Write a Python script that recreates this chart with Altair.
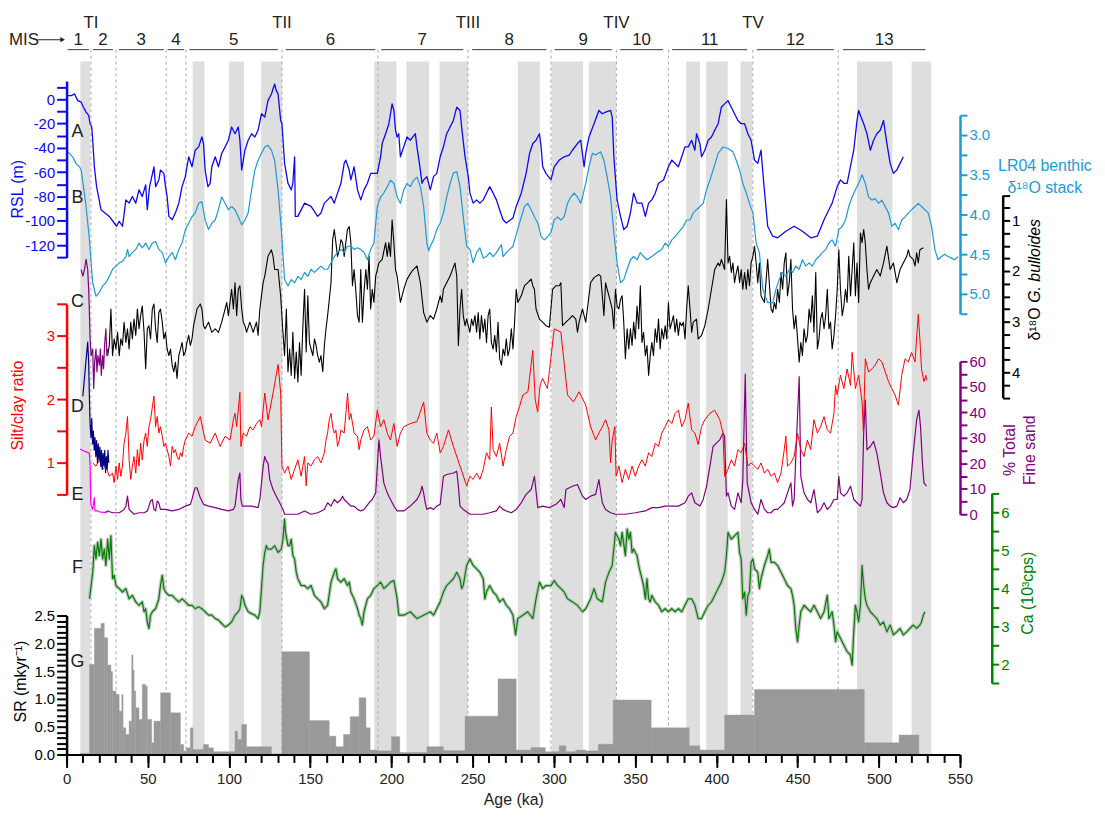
import altair as alt
import pandas as pd

FONT = "Liberation Sans"
INK = "#222222"

# ---------------- data (age in ka, value) ----------------
RSL = [(0.2,3),(2.9,3),(4.9,4.4),(6.9,-1.1),(9.0,-2.4),(10.4,-6.5),(12.0,-10.6),(13.6,-13.3),(14.5,-20.1),(15.5,-22.8),(16.1,-33.7),(17.1,-55.5),(18.5,-71.8),(21.2,-90.8),(26.3,-96.3),(30.8,-104.4),(32.4,-100.3),(34.4,-104.4),(35.4,-94.9),(36.5,-82.7),(38.5,-85.4),(40.5,-79.9),(42.6,-85.4),(44.6,-74.5),(46.6,-79.9),(48.7,-70.4),(49.7,-90.8),(51.1,-71.8),(53.8,-55.5),(54.8,-71.8),(56.8,-66.3),(57.8,-58.2),(59.9,-60.9),(60.9,-71.8),(61.9,-79.9),(63.0,-96.3),(65.0,-99),(67.0,-93.5),(69.1,-85.4),(71.1,-71.8),(73.1,-63.6),(75.2,-47.3),(77.2,-55.5),(79.2,-41.9),(81.3,-39.1),(83.3,-31.0),(84.3,-36.4),(85.3,-58.2),(87.0,-71.8),(88.4,-69.1),(89.4,-55.5),(91.5,-47.3),(93.5,-55.5),(95.5,-44.6),(97.6,-39.1),(99.6,-33.7),(101.6,-22.8),(103.7,-28.3),(105.7,-22.8),(106.7,-33.7),(107.8,-58.2),(109.8,-41.9),(111.8,-33.7),(113.9,-28.3),(115.9,-31.0),(117.9,-25.5),(120.0,-11.9),(122.0,-14.7),(124.0,-1.1),(126.1,4.4),(128.1,12.5),(129.1,7.1),(130.2,4.4),(131.8,-17.4),(132.6,-20.1),(134.2,-52.7),(136.3,-69.1),(138.3,-74.5),(139.3,-69.1),(140.4,-47.3),(140.8,-96.3),(142.4,-96.3),(146.5,-85.4),(150.5,-88.1),(154.6,-96.3),(156.6,-93.5),(158.7,-85.4),(160.7,-82.7),(162.8,-79.9),(164.8,-85.4),(166.8,-77.2),(168.9,-69.1),(170.9,-52.7),(171.9,-50.0),(174.0,-58.2),(175.0,-66.3),(177.0,-55.5),(179.1,-74.5),(181.1,-82.7),(183.1,-74.5),(185.2,-69.1),(187.2,-60.9),(189.2,-60.9),(191.3,-60.9),(193.3,-47.3),(194.3,-36.4),(196.4,-28.3),(198.4,-20.1),(200.4,-3.8),(201.5,-9.2),(202.5,-25.5),(203.5,-31.0),(204.5,-28.3),(205.5,-47.3),(207.6,-39.1),(209.6,-31.0),(211.6,-33.7),(214.7,-28.3),(215.7,-39.1),(217.8,-58.2),(218.8,-69.1),(219.8,-66.3),(221.8,-63.6),(223.9,-74.5),(225.9,-63.6),(227.9,-60.9),(230.0,-47.3),(232.0,-39.1),(234.0,-28.3),(236.1,-22.8),(238.1,-17.4),(240.2,-6.5),(242.2,-9.2),(243.2,-22.8),(245.3,-47.3),(247.3,-63.6),(248.3,-77.2),(250.3,-85.4),(252.4,-82.7),(254.4,-85.4),(256.5,-82.7),(258.5,-77.2),(260.5,-71.8),(262.6,-77.2),(264.6,-82.7),(266.6,-90.8),(268.7,-99.0),(270.7,-101.7),
       (274.8,-97.6),(276.8,-88.1),(279.9,-77.2),(282.9,-60.9),(285.0,-44.6),(287.0,-36.4),(289.0,-33.7),(291.1,-28.3),(292.1,-39.1),(293.1,-55.5),(295.1,-60.9),(298.2,-66.3),(300.2,-55.5),(303.3,-50.0),(306.3,-47.3),(309.4,-45.9),(311.4,-41.9),(314.5,-36.4),(316.5,-33.7),(318.6,-55.5),(319.6,-44.6),(321.6,-31.0),(324.7,-20.1),(327.7,-9.2),(329.8,-11.9),(331.8,-10.6),(334.9,-9.2),(335.9,-14.7),(336.9,-47.3),(338.9,-82.7),(341.0,-96.3),(343.0,-107.1),(345.1,-104.4),(347.1,-93.5),(349.1,-77.2),(351.2,-85.4),(354.2,-85.4),(356.3,-96.3),(358.3,-85.4),(360.3,-82.7),(362.4,-77.2),(364.4,-69.1),(367.5,-66.3),(370.5,-55.5),(372.6,-50.0),(374.6,-52.7),(376.6,-55.5),(378.7,-47.3),(380.7,-39.1),(382.7,-39.1),(384.8,-33.7),(386.8,-41.9),(387.8,-28.3),(389.9,-36.4),(390.9,-47.3),(392.9,-41.9),(395.0,-33.7),(397.0,-31.0),(399.0,-25.5),(401.1,-20.1),(403.1,-6.5),(405.1,-3.8),(407.2,-1.1),(409.2,-6.5),(411.2,-11.9),(413.3,-17.4),(415.3,-20.1),(417.4,-20.1),(419.4,-28.3),(421.4,-33.7),(423.5,-50.0),(425.5,-52.7),(427.5,-41.9),(429.2,-69.1),(431.6,-104.4),(434.7,-112.6),(437.7,-113.9),(442.8,-108.5),(447.9,-104.4),(453.0,-108.5),(458.1,-113.9),(462.2,-112.6),(466.3,-99.0),(469.3,-90.8),(471.3,-85.4),(474.4,-71.8),(476.4,-66.3),(478.5,-69.1),(480.5,-69.1),(482.5,-55.5),(484.6,-41.9),(486.6,-17.4),(487.6,-9.2),(488.7,-13.3),(490.7,-20.1),(492.7,-28.3),(494.8,-41.9),(496.8,-33.7),(498.8,-28.3),(500.9,-25.5),(502.9,-17.4),(505.0,-36.4),(507.0,-52.7),(509.0,-60.9),(511.1,-58.2),(513.1,-52.7),(515.1,-47.3)]

LR04 = [(0.2,3.21),(1.8,3.23),(3.9,3.28),(5.9,3.36),(7.9,3.40),(9.0,3.44),(10.4,3.65),(12.0,3.90),(14.1,4.32),(15.1,4.61),(16.1,4.86),(18.1,5.03),(20.2,4.98),(22.2,4.90),(24.2,4.86),(26.3,4.78),(28.3,4.69),(30.4,4.65),(32.4,4.61),(34.4,4.59),(36.5,4.53),(37.5,4.44),(38.5,4.53),(40.5,4.48),(42.6,4.44),(44.6,4.36),(46.6,4.42),(48.7,4.36),(50.7,4.44),(52.8,4.36),(54.8,4.34),(56.8,4.44),(58.9,4.48),(60.9,4.61),(63.0,4.53),(65.0,4.48),(67.0,4.57),(69.1,4.44),(71.1,4.36),(73.1,4.19),(75.2,4.11),(77.2,4.03),(79.2,3.98),(81.3,3.86),(83.3,3.84),(85.3,4.07),(87.4,4.19),(89.4,4.11),(91.5,4.07),(93.5,3.94),(95.5,3.78),(97.6,3.86),(99.6,3.94),(101.6,3.90),(103.7,3.94),(105.7,4.03),(107.8,4.13),(109.8,4.07),(111.8,3.98),(113.9,3.69),(115.9,3.44),(117.9,3.32),(120.0,3.23),(122.0,3.15),(124.0,3.13),(126.1,3.19),(128.1,3.32),(130.2,3.69),(132.2,4.19),(134.2,4.82),(136.3,4.90),(138.3,4.82),(140.4,4.86),(142.4,4.78),(144.4,4.82),(146.5,4.73),(148.5,4.78),(150.5,4.69),(152.6,4.73),(154.6,4.69),(156.6,4.65),(158.7,4.69),(160.7,4.69),(162.8,4.61),(164.8,4.53),(166.8,4.48),(168.9,4.44),(170.9,4.48),(172.9,4.40),(175.0,4.40),(177.0,4.44),(179.1,4.42),(181.1,4.44),(183.1,4.48),(185.2,4.57),(187.2,4.44),(189.2,4.36),(191.3,3.90),(193.3,3.78),(195.3,3.73),(197.4,3.65),(199.4,3.57),(201.5,3.61),(203.5,3.78),(205.5,3.86),(207.6,3.69),(209.6,3.61),(211.6,3.65),(213.7,3.57),(215.7,3.53),(217.8,3.65),(219.8,3.90),(221.8,4.36),(222.9,4.46),(223.9,4.40),(225.9,4.32),(227.9,4.19),(230.0,4.11),(232.0,3.98),(234.0,3.78),(236.1,3.61),(238.1,3.48),(240.2,3.46),(242.2,3.65),(244.2,4.03),(246.3,4.40),(248.3,4.44),(250.3,4.61),(252.4,4.48),(254.4,4.42),(256.5,4.55),(258.5,4.53),(260.5,4.48),(262.6,4.53),(264.6,4.48),(267.7,4.38),(268.7,4.53),(270.7,4.48),
        (274.8,4.40),(278.8,4.11),(281.9,3.90),(283.9,3.86),(286.0,3.94),(288.0,4.03),(290.1,4.11),(292.1,4.28),(294.1,4.32),(296.2,4.28),(298.2,4.23),(300.2,4.07),(302.3,4.03),(304.3,4.07),(306.3,4.03),(308.4,3.86),(310.4,3.78),(312.5,3.73),(314.5,3.78),(316.5,3.86),(317.6,3.78),(319.6,3.61),(321.6,3.40),(323.7,3.23),(325.7,3.25),(328.8,3.21),(330.8,3.32),(332.8,3.53),(334.9,3.78),(336.9,4.23),(338.9,4.61),(341.0,4.86),(343.0,4.82),(345.1,4.69),(347.1,4.57),(349.1,4.53),(351.2,4.57),(353.2,4.48),(355.2,4.53),(357.3,4.57),(360.3,4.53),(363.4,4.48),(366.4,4.44),(368.5,4.36),(370.5,4.40),(372.6,4.32),(374.6,4.28),(376.6,4.23),(379.7,4.15),(381.7,4.07),(383.8,4.07),(385.8,3.98),(387.8,3.94),(389.9,3.90),(391.9,3.86),(393.9,3.69),(396.0,3.57),(398.0,3.44),(401.1,3.23),(404.1,3.15),(407.2,3.17),(410.2,3.21),(412.3,3.32),(414.3,3.44),(416.3,3.61),(418.4,3.73),(420.4,3.86),(422.5,3.98),(424.5,4.36),(426.5,4.48),(428.6,4.94),(431.6,5.11),(434.7,5.11),(436.7,4.94),(438.7,4.82),(440.8,4.73),(442.8,4.78),(444.9,4.69),(446.9,4.73),(448.9,4.65),(451.0,4.69),(453.0,4.57),(455.0,4.65),(457.1,4.61),(459.1,4.65),(461.2,4.57),(463.2,4.53),(465.2,4.48),(467.3,4.44),(469.3,4.36),(471.3,4.32),(473.4,4.40),(475.4,4.19),(477.5,4.15),(479.5,4.07),(481.5,3.90),(483.6,3.78),(485.6,3.69),(487.6,3.61),(489.7,3.50),(491.7,3.61),(493.7,3.78),(495.8,3.82),(497.8,3.80),(499.9,3.86),(501.9,3.82),(503.9,3.90),(506.0,3.98),(508.0,4.15),(510.0,4.11),(512.1,4.19),(514.1,4.07),(516.2,4.03),(518.2,3.98),(520.2,3.94),(522.3,3.90),(524.3,3.86),(526.3,3.90),(528.4,3.94),(530.4,3.98),(532.5,4.15),(534.5,4.44),(536.5,4.57),(538.6,4.53),(540.6,4.50),(542.6,4.53),(544.7,4.55),(546.7,4.57),(548.8,4.53)]

BULLOIDES = [(25.3,3.67),(26.3,3.47),(27.3,2.75),(28.3,3.67),(29.3,3.34),(30.4,3.54),(31.4,3.21),(32.4,3.67),(33.4,3.34),(34.4,3.47),(35.4,3.01),(36.5,3.41),(37.5,3.14),(38.5,3.54),(39.5,3.01),(40.5,3.34),(41.5,2.95),(42.6,3.27),(43.6,2.75),(44.6,3.14),(45.6,2.88),(46.6,2.69),(47.7,3.21),(48.7,3.93),(49.7,3.14),(50.7,3.08),(51.7,3.34),(52.8,2.75),(53.8,2.65),(54.8,3.14),(55.8,3.41),(56.8,2.82),(57.8,2.75),(58.9,3.01),(59.9,3.34),(60.9,3.21),(61.9,3.54),(63.0,3.67),(64.0,3.54),(65.0,3.86),(66.0,3.99),(67.0,3.80),(68.0,4.12),(69.1,3.67),(70.1,3.54),(71.1,3.41),(72.1,3.67),(73.1,3.60),(74.1,3.41),(75.2,3.27),(76.2,3.47),(77.2,3.34),(78.2,3.08),(80.3,2.75),(82.3,2.65),(83.3,2.75),(84.3,3.08),(85.3,3.14),(87.4,3.01),(89.4,3.21),(91.5,3.14),(93.5,3.21),(95.5,3.01),(97.6,2.75),(98.6,2.62),(99.6,2.88),(100.6,2.62),(101.6,2.36),(102.7,2.75),(103.7,2.23),(104.7,2.88),(105.7,2.36),(106.7,2.29),(107.8,2.75),(108.8,3.01),(109.8,3.08),(110.8,3.21),(112.8,3.01),(114.9,3.21),(116.9,3.01),(117.9,3.27),(119.0,2.75),(120.0,2.49),(121.0,2.23),(122.0,2.10),(124.0,1.71),(126.1,1.58),(127.1,1.71),(128.1,1.97),(130.2,1.97),(131.8,2.49),(133.2,3.21),(134.2,3.67),(135.3,2.75),(136.3,3.99),(137.3,3.54),(138.3,4.06),(139.3,3.21),(140.4,4.12),(141.4,3.60),(142.4,4.19),(143.4,3.41),(144.4,4.06),(145.4,3.14),(146.5,2.36),(147.5,3.60),(148.5,2.49),(149.5,3.41),(150.5,3.54),(151.6,3.67),(152.6,3.34),(153.6,3.47),(154.6,3.67),(155.6,3.80),(156.6,3.67),(157.7,3.99),(158.7,3.47),(159.7,3.14),(160.7,2.88),(162.8,2.23),(163.8,1.38),(164.8,1.18),(165.8,1.44),(166.8,1.71),(167.9,1.58),(168.9,1.38),(169.9,1.44),(170.9,1.71),(172.9,1.18),(174.0,1.12),(175.0,1.44),(176.0,2.29),(177.0,1.97),(178.0,2.36),(179.1,2.88),(180.1,3.01),(181.1,1.97),(182.1,3.01),(183.1,2.42),(184.2,1.97),(185.2,2.36),(186.2,1.71),(187.2,2.75),(188.2,2.36),(189.2,2.62),(190.3,2.10),(191.3,1.97),(192.3,1.84),(194.3,1.77),(196.4,1.44),(197.4,1.71),(198.4,1.44),(199.4,1.71),(200.4,0.99),(201.5,1.44),(202.5,1.97),(203.5,2.10),(205.5,2.62),(207.6,2.36),(209.6,2.16),(212.7,2.00),(215.7,1.90),(217.8,2.23),(219.8,2.82),(221.8,3.01),(223.9,2.88),(225.9,2.95),(227.9,2.75),(230.0,2.49),(231.0,2.62),(232.0,2.36),(234.0,2.23),(236.1,2.10),(239.1,1.84),(240.2,2.10),(241.2,3.47),(242.2,2.75),(243.2,2.36),(244.2,2.88),(245.3,3.08),(246.3,2.95),(248.3,3.21),(249.3,2.95),(250.3,3.08),(251.4,2.88),(252.4,3.21),(253.4,2.82),(254.4,3.34),(255.4,2.88),(256.5,3.21),(257.5,2.95),(258.5,3.41),(259.5,2.88),(260.5,2.75),(261.5,3.41),(262.6,3.54),(263.6,3.27),(264.6,3.60),(265.6,3.01),(266.6,3.73),(267.7,3.86),(268.7,3.54),(269.7,3.67),(270.7,3.34),
             (271.7,3.67),(272.7,3.54),(273.8,3.14),(274.8,3.54),(275.8,3.01),(276.8,2.36),(277.8,2.62),(279.9,2.49),(281.9,2.29),(283.9,2.23),(286.0,2.16),(287.0,2.29),(288.0,2.36),(289.0,2.75),(291.1,2.95),(293.1,3.01),(295.1,3.08),(297.2,3.11),(299.2,2.36),(301.3,2.29),(303.3,2.29),(304.3,2.23),(305.3,3.08),(307.4,3.01),(309.4,2.95),(311.4,2.88),(313.5,2.95),(314.5,3.21),(315.5,3.01),(317.6,2.75),(318.6,2.88),(319.6,3.01),(320.6,2.75),(322.6,2.23),(324.7,2.13),(327.7,2.07),(328.8,2.10),(329.8,2.49),(330.8,2.88),(331.8,2.23),(332.8,2.36),(333.9,2.49),(335.9,2.75),(336.9,3.14),(337.9,2.36),(338.9,2.69),(340.0,2.75),(341.0,2.56),(342.0,2.49),(343.0,3.01),(344.0,3.73),(345.1,3.14),(346.1,3.54),(347.1,3.14),(348.1,3.47),(349.1,3.01),(350.1,3.34),(351.2,2.69),(352.2,3.14),(353.2,2.29),(354.2,3.41),(355.2,3.21),(356.3,3.67),(357.3,3.47),(358.3,4.06),(359.3,3.67),(360.3,3.41),(361.3,3.67),(362.4,3.14),(363.4,3.41),(364.4,2.95),(365.4,3.54),(366.4,3.14),(367.5,3.34),(368.5,3.08),(369.5,3.34),(370.5,2.62),(371.5,3.14),(372.6,3.01),(373.6,2.88),(374.6,3.21),(375.6,2.95),(376.6,3.27),(377.6,3.01),(378.7,3.08),(379.7,3.01),(380.7,3.34),(381.7,2.75),(382.7,2.29),(383.8,2.75),(384.8,3.21),(385.8,3.01),(387.8,2.95),(388.8,3.34),(390.9,3.27),(392.9,3.08),(395.0,2.75),(397.0,2.36),(399.0,1.97),(401.1,1.84),(402.1,1.90),(403.1,1.77),(405.1,1.97),(406.2,0.59),(407.2,1.84),(408.2,1.71),(409.2,2.03),(410.2,1.84),(411.2,2.23),(412.3,2.03),(413.3,1.90),(414.3,2.23),(415.3,1.97),(416.3,2.36),(417.4,2.03),(418.4,2.36),(419.4,1.97),(420.4,2.29),(421.4,1.84),(422.5,1.71),(423.5,1.51),(424.5,1.84),(425.5,2.23),(426.5,1.84),(427.5,2.49),(429.6,2.62),(431.6,1.77),(432.6,2.23),(433.7,2.75),(434.7,2.82),(435.7,2.62),(436.7,2.75),(437.7,2.36),(438.8,2.62),(439.8,2.03),(440.8,2.36),(441.8,1.84),(442.8,1.64),(443.8,2.49),(444.9,2.23),(445.9,1.77),(446.9,2.75),(447.9,3.14),(448.9,2.88),(450.0,3.34),(451.0,3.80),(452.0,3.41),(453.0,3.67),(454.0,3.14),(455.1,3.41),(456.1,3.27),(457.1,2.75),(458.1,3.01),(459.1,2.49),(460.1,3.21),(461.2,2.03),(462.2,3.54),(463.2,3.34),(464.2,2.95),(465.2,2.82),(466.3,3.14),(467.3,2.88),(468.3,2.36),(469.3,3.14),(470.3,3.01),(471.3,3.54),(472.4,3.27),(473.4,2.88),(474.4,2.36),(475.4,1.58),(476.4,2.36),(477.5,2.88),(478.5,2.69),(479.5,2.36),(480.5,2.62),(481.5,1.71),(482.6,2.49),(483.6,1.97),(484.6,1.44),(485.6,2.49),(486.6,1.84),(487.6,2.62),(488.7,1.25),(489.7,1.44),(490.7,1.18),(491.7,1.44),(492.7,1.97),(493.7,2.36),(494.8,2.23),(496.8,2.10),(498.8,1.97),(500.9,2.10),(502.9,1.84),(505.0,1.51),(507.0,1.97),(509.0,1.84),(511.1,2.23),(513.1,1.97),(515.1,1.84),(517.2,1.71),(518.2,1.58),(519.2,1.71),(521.2,1.77),(522.3,1.90),(523.3,1.64),(524.3,1.84),(525.3,1.58),(527.4,1.54)]

BULLOIDES_CORE2 = [(9.0,1.97),(10.0,2.10),(11.0,1.97),(12.0,1.77),(13.0,1.97),(13.6,2.36),(14.1,2.88),(14.5,3.34),(15.1,3.67),(16.1,3.54),(16.7,4.32),(17.3,3.80),(18.1,3.54),(18.7,3.99),(19.3,3.67),(20.2,3.86),(20.8,3.54),(21.4,4.06),(22.2,3.67),(22.8,3.93),(23.4,3.47),(24.2,3.14),(24.8,3.67),(25.3,3.54)]

SILT_CLAY = [(16.1,1.0),(18.1,0.95),(20.2,1.05),(22.2,0.9),(24.2,0.95),(26.3,0.79),(28.3,0.84),(29.3,0.69),(30.4,0.95),(31.4,0.74),(32.4,1.0),(33.4,0.79),(34.4,0.95),(35.4,1.31),(36.5,1.47),(37.5,1.73),(38.5,1.05),(39.5,0.74),(40.5,0.95),(41.5,1.1),(42.6,0.84),(43.6,1.21),(44.6,0.95),(45.6,1.31),(46.6,1.05),(47.7,1.36),(48.7,1.47),(49.7,1.26),(50.7,1.57),(51.7,1.68),(52.8,1.88),(53.8,2.05),(54.8,1.57),(55.8,1.73),(56.8,1.47),(57.8,1.57),(58.9,1.42),(59.9,1.26),(60.9,1.31),(61.9,1.21),(63.0,1.1),(64.0,0.95),(65.0,1.26),(66.0,1.16),(67.0,1.21),(68.0,1.1),(69.1,1.05),(70.1,1.16),(71.1,1.1),(72.1,1.26),(73.1,1.36),(75.2,1.47),(77.2,1.42),(79.2,1.57),(82.3,1.73),(85.3,1.36),(88.4,1.31),(91.5,1.47),(94.5,1.26),(97.6,1.42),(100.6,1.36),(102.7,1.68),(103.7,1.78),(104.7,1.57),(106.7,2.11),(107.3,1.26),(108.8,1.47),(110.8,1.42),(112.8,1.57),(114.9,1.52),(116.9,1.62),(119.0,1.68),(120.0,1.57),(122.0,2.1),(124.0,1.68),(127.1,2.1),(130.2,2.55),(131.8,2.1),(132.6,0.95),(134.2,0.84),(136.3,0.95),(138.3,0.74),(140.4,0.9),(142.4,1.05),(144.4,0.79),(146.5,1.1),(147.5,0.64),(148.5,1.0),(150.5,0.95),(152.6,1.05),(154.6,1.1),(156.6,1.0),(158.7,1.16),(159.7,1.36),(160.7,1.47),(161.7,1.68),(162.8,1.78),(163.8,1.57),(164.8,1.47),(165.8,1.52),(166.8,1.26),(167.9,1.36),(168.9,1.52),(170.9,1.47),(173.0,2.1),(174.0,1.68),(175.0,1.78),(177.0,1.47),(179.1,1.42),(180.1,1.21),(181.1,1.36),(183.1,1.52),(185.2,1.57),(187.2,1.36),(189.2,1.42),(191.3,1.83),(193.3,1.57),(195.3,1.68),(197.4,1.47),(199.4,1.36),(201.5,1.62),(203.5,1.26),(205.5,1.47),(207.6,1.57),(211.6,1.62),(215.7,1.65),(219.8,1.96),(221.8,1.47),(223.9,1.36),(225.9,1.31),(227.9,1.47),(230.0,1.16),(232.0,1.26),(235.1,1.52),(238.1,1.26),(242.2,0.95),(246.3,0.64),(248.3,0.79),(250.3,0.74),(252.4,0.84),(254.4,0.74),(256.5,0.9),(258.5,1.16),(260.5,1.05),(261.5,1.88),(262.6,1.21),(264.6,1.1),(266.6,1.31),(268.7,0.95),(270.7,1.21),
             (272.7,1.42),(274.8,1.47),(276.8,1.73),(278.9,1.89),(280.9,2.07),(284.0,2.12),(287.0,2.77),(288.5,2.0),(290.0,1.8),(291.5,2.22),(293.0,2.33),(296.0,2.17),(300.2,3.11),(304.3,3.06),(308.4,2.07),(312.0,1.96),(315.5,2.12),(319.6,1.91),(322.6,1.57),(325.7,1.36),(327.7,1.47),(329.8,1.57),(331.8,1.68),(333.9,1.52),(334.9,1.0),(335.9,1.36),(337.5,1.57),(338.3,0.79),(340.0,0.95),(342.0,0.69),(344.0,0.9),(346.0,0.74),(348.1,0.95),(350.1,0.79),(352.2,0.95),(354.2,1.05),(356.3,0.95),(358.3,1.16),(360.3,1.1),(362.4,1.31),(364.4,1.26),(366.4,1.47),(368.5,1.57),(370.5,1.68),(372.6,1.62),(374.6,1.78),(376.6,1.83),(378.7,1.57),(380.7,1.68),(382.7,1.94),(384.8,1.52),(386.8,1.47),(388.8,1.29),(390.9,1.57),(392.9,1.68),(396.0,1.78),(399.0,1.83),(402.1,1.68),(404.1,1.47),(405.1,0.79),(407.2,0.9),(409.2,1.05),(411.2,0.95),(413.3,1.21),(415.3,1.16),(417.4,1.31),(419.4,0.95),(421.4,1.0),(423.5,0.95),(425.5,0.9),(427.5,1.0),(429.6,0.84),(431.6,0.9),(433.7,0.79),(435.7,0.84),(437.7,0.69),(439.8,0.84),(441.8,1.21),(442.8,1.42),(443.8,0.95),(445.9,1.0),(447.9,1.1),(450.0,1.47),(452.0,1.21),(454.0,1.1),(456.0,1.36),(458.1,1.21),(460.1,1.68),(462.2,1.47),(464.2,1.57),(466.3,1.73),(468.3,1.52),(470.3,1.47),(472.4,1.78),(473.4,2.22),(474.4,2.07),(476.4,2.38),(478.5,2.17),(480.5,2.48),(482.6,2.22),(483.6,2.74),(485.6,2.17),(487.6,2.38),(489.7,1.96),(490.5,1.5),(491.7,2.64),(493.7,2.43),(495.8,2.48),(497.8,2.54),(499.9,2.64),(501.9,2.59),(504.0,2.43),(506.0,2.28),(508.0,2.17),(510.0,2.07),(512.1,1.91),(514.1,2.38),(516.2,2.64),(518.2,2.59),(520.2,2.74),(522.3,2.59),(524.3,3.34),(525.3,2.95),(526.3,2.48),(527.8,2.28),(529.0,2.38),(529.4,2.3)]

SILT_CLAY_CORE2 = [(10.0,2.05),(13.0,2.9),(13.6,2.6),(14.1,2.0),(14.5,1.6),(15.0,1.4),(15.5,1.7),(16.0,1.3),(16.5,1.5),(17.0,1.2),(17.5,1.4),(18.0,1.1),(18.5,1.35),(19.0,1.0),(19.5,1.3),(20.0,1.05),(20.5,1.25),(21.0,0.95),(21.5,1.2),(22.0,0.9),(22.5,1.15),(23.0,0.95),(23.5,1.2),(24.0,0.85),(24.5,1.1),(25.0,0.9),(25.5,1.2),(26.0,1.0)]

FINE_SAND = [(23.2,0.6),(25.3,1.3),(28.3,0.6),(32.4,0.6),(35.4,1.9),(36.5,3.2),(37.5,7.1),(38.5,1.9),(41.5,0),(44.6,0.6),(47.7,0.6),(49.7,1.3),(50.7,3.2),(51.7,5.2),(52.8,5.8),(53.8,1.9),(54.8,1.3),(55.8,5.2),(56.8,4.5),(57.8,1.9),(60.9,1.9),(65.0,1.3),(69.1,1.9),(73.1,3.2),(76.2,3.9),(77.2,5.8),(78.2,8.4),(79.2,10.4),(80.3,10.4),(81.3,8.4),(82.3,6.5),(83.3,5.2),(84.3,3.9),(87.4,3.2),(91.5,2.6),(95.5,1.9),(99.6,1.3),(102.7,1.9),(103.7,3.2),(104.7,8.4),(105.7,13.6),(106.7,16.2),(107.3,5.8),(108.2,3.2),(109.8,3.2),(113.9,3.2),(117.9,2.6),(119.0,5.8),(120.0,12.3),(121.0,18.8),(122.0,22.7),(123.0,20.8),(124.0,20.1),(125.1,13.6),(127.1,9.7),(129.1,7.1),(131.2,4.5),(133.2,1.9),(134.2,0),(138.3,0),(142.4,0),(146.5,1.3),(150.5,0),(154.6,0.6),(158.7,1.9),(160.7,4.5),(162.8,3.2),(164.8,5.8),(166.8,4.5),(168.9,5.8),(169.9,7.1),(170.9,5.8),(172.9,4.5),(175.0,3.2),(177.0,3.2),(179.1,1.9),(181.1,1.3),(183.1,1.9),(186.2,4.5),(188.2,5.8),(190.3,8.4),(191.3,18.8),(192.3,29.2),(193.3,22.7),(195.3,12.3),(197.4,8.4),(199.4,5.8),(201.5,3.2),(203.5,1.3),(207.6,1.3),(211.6,3.2),(215.7,5.8),(217.8,8.4),(218.8,11.0),(219.8,8.4),(220.8,4.5),(221.8,1.9),(223.9,2.6),(225.9,1.9),(227.9,3.2),(230.0,3.9),(232.0,14.9),(234.0,15.6),(238.1,16.2),(240.2,16.9),(241.2,11.0),(242.2,3.2),(244.2,1.9),(248.3,0),(252.4,0),(256.5,0),(260.5,0.6),(264.6,1.3),(266.6,3.2),(268.7,1.9),
             (270.7,1.3),(273.8,0.6),(276.8,1.9),(279.9,4.5),(282.9,7.8),(286.0,9.7),(288.0,14.9),(290.1,2.6),(293.1,3.2),(297.2,2.6),(301.3,3.9),(304.3,5.8),(306.3,2.6),(307.4,9.7),(311.4,11.0),(314.5,11.7),(317.6,7.1),(319.6,5.8),(322.6,7.1),(325.7,7.8),(327.7,13.6),(329.8,4.5),(331.8,1.9),(334.9,0.6),(337.9,0),(344.0,0),(350.1,0.6),(356.3,1.3),(360.3,2.6),(364.4,2.6),(368.5,3.2),(372.6,3.2),(376.6,3.2),(380.7,4.5),(382.7,7.1),(384.8,8.4),(386.8,4.5),(389.9,3.2),(391.9,5.8),(394.0,11.0),(396.0,18.8),(398.0,26.6),(400.0,27.9),(402.1,29.2),(404.1,31.8),(405.1,30.5),(406.2,7.1),(407.2,8.4),(409.2,3.2),(411.2,1.9),(413.3,8.4),(415.3,4.5),(416.3,13.6),(417.8,55),(419.0,12.3),(421.4,4.5),(423.5,1.9),(425.5,0),(427.5,5.8),(429.6,1.9),(431.6,0.6),(433.7,0.6),(435.7,1.9),(437.7,1.9),(439.8,3.2),(441.8,4.5),(443.8,8.4),(445.9,12.3),(446.9,3.2),(447.9,5.8),(449.5,31.8),(451.0,54),(452.0,14.9),(454.0,8.4),(456.1,5.8),(458.1,4.5),(460.1,9.7),(462.2,0.6),(464.2,1.9),(466.3,4.5),(468.3,1.9),(470.3,3.2),(472.4,5.8),(474.4,5.8),(475.4,14.9),(476.4,8.4),(478.5,7.1),(480.5,8.4),(482.6,11.0),(484.6,5.8),(486.6,4.5),(488.7,3.2),(489.7,5.8),(490.7,31.8),(491.7,44.8),(492.7,25.3),(494.8,26.6),(496.8,28.6),(498.8,24.0),(500.9,16.2),(502.9,8.4),(505.0,4.5),(507.0,3.2),(509.0,2.6),(511.1,3.2),(513.1,6.5),(515.1,4.5),(517.2,5.8),(519.2,9.7),(521.2,24.0),(523.3,37.0),(524.7,40.9),(525.7,34.4),(527.0,18.8),(527.8,12.3),(529.4,11.0)]

FINE_SAND_CORE2 = [(8.3,25.6),(10.0,25.0),(12.0,24.5),(14.0,24.0),(14.5,19.0),(14.8,6.0),(15.1,3.2),(16.1,2.0),(17.1,6.5),(17.5,1.3),(19.0,1.3),(21.0,0.8),(23.2,0.7),(25.0,0.8)]

CA = [(14.1,3.72),(15.1,4.07),(16.1,4.42),(17.1,5.12),(18.1,4.77),(19.1,5.21),(20.2,4.86),(21.2,5.29),(22.2,4.77),(23.2,5.03),(24.2,4.60),(25.3,5.29),(26.3,4.77),(27.3,5.38),(28.3,4.25),(29.3,4.34),(30.4,4.07),(32.4,3.99),(34.4,3.90),(36.5,3.99),(38.5,3.72),(40.5,3.81),(42.6,3.64),(44.6,3.55),(46.6,3.64),(47.7,3.38),(48.7,3.46),(49.7,3.11),(50.7,2.94),(51.7,3.29),(52.8,3.38),(54.8,3.46),(56.8,3.72),(57.8,4.07),(58.9,4.34),(59.9,3.99),(60.9,3.90),(63.0,3.81),(65.0,3.81),(67.0,3.72),(69.1,3.64),(71.1,3.72),(73.1,3.64),(75.2,3.55),(77.2,3.55),(79.2,3.46),(81.3,3.51),(83.3,3.46),(85.3,3.38),(87.4,3.29),(89.4,3.29),(91.5,3.20),(93.5,3.16),(95.5,3.07),(97.6,2.98),(99.6,3.03),(101.6,3.11),(103.7,3.29),(105.7,3.38),(106.7,3.46),(107.8,3.81),(108.8,3.72),(109.8,3.55),(111.8,3.38),(113.9,3.33),(115.9,3.29),(117.9,3.20),(119.0,3.38),(120.0,3.99),(121.0,4.60),(122.0,4.94),(123.0,5.12),(124.0,5.03),(126.1,5.03),(128.1,5.12),(130.2,4.94),(132.2,5.03),(133.2,5.29),(134.2,5.82),(134.8,5.47),(136.3,5.12),(137.3,5.12),(138.3,5.29),(139.3,4.86),(140.4,4.77),(141.4,4.42),(142.4,4.25),(144.4,4.07),(146.5,4.07),(148.5,3.99),(150.5,4.07),(152.6,3.81),(154.6,3.72),(156.6,3.64),(158.7,3.46),(160.7,3.55),(162.8,4.16),(164.8,4.42),(165.8,4.51),(166.8,4.25),(168.9,4.16),(170.9,4.25),(172.9,4.07),(174.0,4.16),(175.0,3.90),(177.0,3.72),(179.1,3.46),(180.1,3.29),(181.1,3.20),(182.1,3.03),(183.1,3.38),(185.2,3.72),(187.2,3.81),(189.2,3.99),(191.3,4.07),(193.3,4.16),(195.3,3.99),(197.4,4.07),(199.4,4.16),(201.5,4.20),(203.5,3.72),(204.5,3.29),(207.6,3.29),(211.6,3.38),(215.7,3.20),(219.8,3.29),(223.9,3.38),(225.9,3.29),(227.9,3.46),(230.0,3.64),(232.0,3.90),(234.0,4.07),(236.1,4.16),(238.1,4.25),(240.2,4.42),(242.2,4.25),(243.2,3.99),(244.2,4.07),(246.3,4.60),(248.3,4.77),(250.3,4.60),(252.4,4.51),(254.4,4.42),(256.5,4.25),(257.5,3.72),(258.5,3.90),(260.5,4.07),(262.6,3.90),(264.6,3.81),(266.6,3.64),(268.7,3.72),(270.7,3.55),
      (272.7,3.46),(274.8,3.29),(276.4,2.77),(277.8,3.20),(280.9,3.29),(283.9,3.38),(287.0,3.20),(289.0,3.72),(291.1,4.16),(293.1,3.99),(295.1,4.07),(298.2,4.07),(300.2,4.20),(302.3,4.07),(304.3,3.99),(306.3,3.90),(308.4,3.72),(311.4,3.64),(314.5,3.55),(317.6,3.38),(319.6,3.46),(322.6,3.72),(324.7,3.99),(326.7,3.72),(329.8,3.64),(331.8,4.16),(333.9,4.42),(335.9,4.60),(337.9,5.47),(340.0,5.29),(341.0,5.12),(342.0,5.47),(344.0,4.86),(345.1,5.56),(346.1,5.29),(347.1,5.47),(348.1,4.94),(349.1,5.03),(350.1,4.94),(351.2,4.86),(352.2,4.60),(353.2,4.42),(354.2,4.25),(355.2,4.07),(356.3,3.72),(357.3,4.25),(358.3,3.72),(359.3,3.64),(360.3,3.81),(362.4,3.64),(364.4,3.55),(366.4,3.38),(368.5,3.46),(370.5,3.38),(372.6,3.46),(374.6,3.38),(376.6,3.46),(378.7,3.38),(380.7,3.55),(382.7,3.72),(384.8,3.72),(386.8,3.55),(388.8,3.20),(390.9,3.20),(392.9,3.38),(395.0,3.55),(397.0,3.64),(399.0,3.81),(401.1,3.99),(403.1,4.16),(405.1,4.42),(406.2,4.86),(407.2,5.47),(409.2,5.29),(411.2,5.38),(413.3,5.47),(414.3,4.94),(415.3,4.77),(416.3,3.72),(417.4,3.90),(418.4,3.29),(419.4,3.81),(420.4,3.90),(421.4,4.68),(422.5,4.77),(423.5,4.51),(425.5,4.42),(426.5,3.99),(427.5,4.25),(429.6,4.60),(431.6,4.86),(432.6,5.03),(433.7,4.68),(435.7,4.68),(437.7,4.60),(439.8,4.42),(441.8,4.25),(443.8,4.07),(445.9,3.99),(446.9,3.81),(447.9,3.55),(448.9,2.94),(450.0,2.59),(451.0,3.03),(452.0,3.38),(454.0,3.55),(456.1,3.46),(458.1,3.38),(460.1,3.55),(462.2,3.38),(464.2,3.20),(466.3,3.38),(468.3,3.81),(469.3,3.20),(470.3,3.29),(471.3,3.38),(472.4,3.03),(473.4,2.59),(474.4,2.85),(476.4,2.68),(478.5,2.50),(480.5,2.33),(482.6,2.24),(483.6,1.98),(484.6,2.85),(485.6,3.55),(486.6,3.38),(487.6,3.11),(488.7,3.55),(489.7,4.60),(490.7,4.07),(491.7,3.72),(492.7,3.55),(494.8,3.38),(496.8,3.29),(498.8,3.20),(500.9,3.03),(502.9,3.11),(505.0,2.85),(507.0,3.03),(509.0,2.77),(511.1,2.85),(513.1,2.94),(515.1,2.77),(517.2,2.85),(519.2,2.94),(521.2,3.03),(523.3,2.94),(525.3,3.03),(526.3,3.11),(527.4,3.29),(528.4,3.38)]

# G: sedimentation rate steps (start ka, end ka, m/kyr)
SR_START = [8.6,14.1,17.1,21.2,23.2,25.3,27.3,28.3,30.4,32.4,34.0,34.8,36.5,38.5,40.1,40.9,41.6,42.6,44.6,46.6,48.7,49.7,52.4,53.8,57.9,64.0,70.1,72.1,73.7,76.2,77.8,84.3,87.4,90.4,103.7,105.3,107.8,110.8,126.1,132.6,149.5,161.7,165.8,170.5,174.6,180.1,184.3,186.9,191.3,200.0,205.1,221.8,232.0,245.3,265.6,276.8,286.0,294.7,303.3,307.4,313.5,319.6,327.3,336.5,359.9,383.3,389.9,405.1,423.5,491.1,512.5]
SR_END = [14.1,17.1,21.2,23.2,25.3,27.3,28.3,30.4,32.4,34.0,34.8,36.5,38.5,40.1,40.9,41.6,42.6,44.6,46.6,48.7,49.7,52.4,53.8,57.9,64.0,70.1,72.1,73.7,76.2,77.8,84.3,87.4,90.4,103.7,105.3,107.8,110.8,126.1,132.6,149.5,161.7,165.8,170.5,174.6,180.1,184.3,186.9,191.3,200.0,205.1,221.8,232.0,245.3,265.6,276.8,286.0,294.7,303.3,307.4,313.5,319.6,327.3,336.5,359.9,383.3,389.9,405.1,423.5,491.1,512.5,524.7]
SR_VAL = [0.02,1.62,2.27,2.36,2.1,1.61,1.49,1.14,1.08,0.78,1.08,0.48,0.36,0.6,1.79,1.52,1.14,0.84,0.63,1.26,1.23,0.63,0.21,0.6,1.11,0.75,0.18,0.06,0.12,0.48,0.09,0.18,0.12,0.05,0.42,0.27,0.54,0.14,0.01,1.85,0.61,0.33,0.14,0.36,0.68,1.02,0.48,0.08,0.065,0.32,0.036,0.14,0.07,0.69,1.36,0.08,0.125,0.05,0.155,0.05,0.08,0.065,0.185,0.98,0.48,0.155,0.08,0.71,1.17,0.21,0.35]

BAND_START = [8.5,77.6,100.0,119.8,189.4,209.2,229.6,277.8,298.6,321.4,381.5,393.7,414.9,486.6,520.2]
BAND_END = [14.5,84.9,109.2,132.6,203.1,223.1,247.1,291.3,318.0,338.3,389.9,407.0,422.1,508.4,532.3]
MIS_BOUNDARY = [15.0,30.4,61.3,73.5,132.6,191.7,247.1,298.2,338.5,370.5,422.5,475.0]
MIS_LABEL = ["1","2","3","4","5","6","7","8","9","10","11","12","13"]
MIS_START = [0.7,16.3,32.2,62.2,75.7,135.0,193.7,249.7,300.5,340.8,372.8,424.9,478.0]
MIS_END = [13.7,28.5,59.8,72.4,130.0,190.0,244.2,295.4,335.7,367.2,419.0,472.3,528.7]
TERM_LABEL = ["TI","TII","TIII","TIV","TV"]
TERM_AGE = [15.0,132.6,247.1,338.5,422.5]
PANEL_LETTERS = ["A","B","C","D","E","F","G"]

# ---------------- layout ----------------
W, H = 900, 747
BLUE, LBLUE, BLACK, RED, PURPLE, GREEN = "#0a0af0", "#1c9ad6", "#000000", "#ff0000", "#800080", "#008000"
LETTER_Y = [120, 186, 291, 397, 486, 559, 654]


def frame(pairs):
    return pd.DataFrame(pairs, columns=["age", "v"])


XS = alt.Scale(domain=[0, 550], nice=False, zero=False, padding=0)


def X(axis=None):
    if axis is None:
        return alt.X("age:Q", scale=XS, axis=None)
    return alt.X("age:Q", scale=XS, axis=axis)


def yaxis(color, orient, values, test, fmt, title, tx, ty, offset=0, tick=10,
          angle=270, lh=18):
    return alt.Axis(
        orient=orient, offset=offset, values=values, format=fmt,
        labelExpr="(" + test + ") ? replace(datum.label, '\u2212', '-') : ''",
        title=title, titleX=tx, titleY=ty, titleAngle=angle, titleAlign="center",
        titleBaseline="middle", titleLineHeight=lh, titleColor=color, titleFont=FONT,
        titleFontSize=16, titleFontWeight="normal", domainColor=color, domainWidth=2.5,
        tickColor=color, tickWidth=2, tickSize=tick, labelColor=color, labelFont=FONT,
        labelFontSize=15, labelPadding=2, labelOverlap=False, grid=False, zindex=1)


def yscale(domain, rng):
    return alt.Scale(domain=domain, range=rng, nice=False, zero=False)


S_RSL = yscale([-130, 15], [246.25, 68.6])
S_LR04 = yscale([2.75, 5.25], [103, 303])
S_BUL = yscale([0.5, 4.5], [183.5, 387.5])
S_SILT = yscale([0.5, 3.5], [485.3, 293.3])
S_SAND = yscale([0, 60], [505, 351])
S_CA = yscale([1.5, 6.5], [675.1, 483.9])
S_SR = yscale([0, 2.5], [747, 607])


def qv(start, stop, step, nd=2):
    out, k = [], 0
    while True:
        v = round(start + k * step, nd)
        if v > stop + 1e-9:
            break
        out.append(v)
        k += 1
    return out


AX_RSL = yaxis(BLUE, "left", qv(-130, 10, 10), "datum.value % 20 === 0", ".0f",
               "RSL (m)", -49, 177)
AX_LR04 = yaxis(LBLUE, "right", qv(2.75, 5.25, 0.25), "(datum.value * 2) % 1 === 0", ".1f",
                ["LR04 benthic", "\u03b4\u00b9\u2078O stack"], 85, 154, tick=7, angle=0, lh=22)
AX_BUL = yaxis(BLACK, "right", qv(0.5, 4.5, 0.25), "datum.value % 1 === 0", ".0f",
               "", 33, 267, offset=43, tick=7)
AX_SILT = yaxis(RED, "left", qv(0.5, 3.5, 0.5), "datum.value % 1 === 0", ".0f",
                "Silt/clay ratio", -49, 395)
AX_SAND = yaxis(PURPLE, "right", qv(0, 60, 5), "datum.value % 10 === 0", ".0f",
                ["% Total", "Fine sand"], 50, 440, tick=7, lh=20)
AX_CA = yaxis(GREEN, "right", qv(1.5, 6.5, 0.5), "datum.value % 1 === 0", ".0f",
              "Ca (10\u00b3cps)", 36, 584, offset=32, tick=7)
AX_SR = yaxis(BLACK, "left", qv(0, 2.5, 0.1, 1), "abs(datum.value * 2 - round(datum.value * 2)) < 0.001",
              ".1f", "SR (mkyr\u207b\u00b9)", -46, 673)

one = pd.DataFrame({"k": [0]})

# background bands, boundaries and x axes
bands_df = pd.DataFrame({"age": BAND_START, "age2": BAND_END})
bands = alt.Chart(bands_df).mark_rect(color="#dedede").encode(
    x=X(alt.Axis(orient="bottom", values=list(range(0, 551, 50)), tickSize=13, tickWidth=2,
                 tickColor=BLACK, domainColor=BLACK, domainWidth=2, labelFontSize=15,
                 labelFont=FONT, labelColor=INK, labelPadding=4, labelFlush=False,
                 title="Age (ka)", titleFont=FONT, titleFontSize=16, titleFontWeight="normal",
                 titleColor=INK, titlePadding=5, grid=False, zindex=1)),
    x2="age2:Q", y=alt.value(49), y2=alt.value(H))

bound_df = pd.DataFrame({"age": MIS_BOUNDARY})
bounds = alt.Chart(bound_df).mark_rule(color="#a8a8a8", strokeDash=[3, 3], strokeWidth=1).encode(
    x=X(alt.Axis(orient="bottom", values=list(range(0, 551, 10)), tickSize=8, tickWidth=2,
                 tickColor=BLACK, domain=False, labels=False, title="", grid=False, zindex=1)),
    y=alt.value(37), y2=alt.value(H))

mis_df = pd.DataFrame({"age": MIS_START, "age2": MIS_END, "label": MIS_LABEL})
mis_lines = alt.Chart(mis_df).mark_rule(color="#333333", strokeWidth=1).encode(
    x=X(), x2="age2:Q", y=alt.value(37))
mis_text = alt.Chart(mis_df).transform_calculate(mid="(datum.age + datum.age2) / 2").mark_text(
    font=FONT, fontSize=17, color=INK, baseline="middle").encode(
    x=alt.X("mid:Q", scale=XS, axis=None), y=alt.value(27), text="label:N")
term_df = pd.DataFrame({"age": TERM_AGE, "label": TERM_LABEL})
term_text = alt.Chart(term_df).mark_text(font=FONT, fontSize=17, color=INK, baseline="middle").encode(
    x=X(), y=alt.value(10), text="label:N")
mis_word = alt.Chart(one).mark_text(text="MIS", font=FONT, fontSize=17, color=INK,
                                    baseline="middle").encode(x=alt.value(-43), y=alt.value(27))
arrow_line = alt.Chart(one).mark_rule(color=INK, strokeWidth=1).encode(
    x=alt.value(-29), x2=alt.value(-5), y=alt.value(27))
arrow_head = alt.Chart(one).mark_point(shape="triangle-right", filled=True, size=28, color=INK,
                                       opacity=1).encode(x=alt.value(-4), y=alt.value(27))

# title of the G. bulloides axis: upright isotope symbol + italic species name
bul_t1 = alt.Chart(one).mark_text(text="\u03b4\u00b9\u2078O", font=FONT, fontSize=16, color=BLACK,
                                  angle=270, align="left", baseline="middle").encode(
    x=alt.value(W + 43 + 33), y=alt.value(330))
bul_t2 = alt.Chart(one).mark_text(text="G. bulloides", font=FONT, fontSize=16, fontStyle="italic",
                                  color=BLACK, angle=270, align="left", baseline="middle").encode(
    x=alt.value(W + 43 + 33), y=alt.value(292))

# G: sedimentation rate
sr_df = pd.DataFrame({"age": SR_START, "age2": SR_END, "v": SR_VAL})
sr = alt.Chart(sr_df).mark_rect(color="#999999", stroke="#999999", strokeWidth=0.4).encode(
    x=X(), x2="age2:Q", y=alt.Y("v:Q", scale=S_SR, axis=AX_SR), y2=alt.datum(0))


def line(pairs, scale, axis, color, width=1.2):
    y = alt.Y("v:Q", scale=scale, axis=axis) if axis is not None else alt.Y("v:Q", scale=scale, axis=None)
    return alt.Chart(frame(pairs)).mark_line(color=color, strokeWidth=width, strokeJoin="round").encode(
        x=X(), y=y)


ca_env = line(CA, S_CA, None, "#c4c4c4", 3.6)
ca = line(CA, S_CA, AX_CA, GREEN, 1.2)
sand = line(FINE_SAND, S_SAND, AX_SAND, PURPLE, 1.2)
sand2 = line(FINE_SAND_CORE2, S_SAND, None, "#ff00ff", 1.2)
silt = line(SILT_CLAY, S_SILT, AX_SILT, RED, 1.0)
silt2 = line(SILT_CLAY_CORE2, S_SILT, None, "#000080", 1.2)
bul = line(BULLOIDES, S_BUL, AX_BUL, BLACK, 1.1)
bul2 = line(BULLOIDES_CORE2, S_BUL, None, PURPLE, 1.2)
lr04 = line(LR04, S_LR04, AX_LR04, LBLUE, 1.2)
rsl = line(RSL, S_RSL, AX_RSL, BLUE, 1.3)

letters = [alt.Chart(one).mark_text(text=t, font=FONT, fontSize=18, color=INK, baseline="middle").encode(
    x=alt.value(11), y=alt.value(yy)) for t, yy in zip(PANEL_LETTERS, LETTER_Y)]

chart = alt.layer(
    bands, bounds, mis_lines, mis_text, term_text, mis_word, arrow_line, arrow_head,
    sr, ca_env, ca, sand, sand2, silt, silt2, bul, bul2, lr04, rsl, bul_t1, bul_t2, *letters
).resolve_scale(y="independent").resolve_axis(x="independent").properties(
    width=W, height=H,
    padding={"left": 59, "top": 2, "right": 138, "bottom": 60},
    autosize=alt.AutoSizeParams(type="none"),
).configure(font=FONT).configure_view(strokeWidth=0)

chart.save("out.html", embed_options={"renderer": "svg", "actions": False})
